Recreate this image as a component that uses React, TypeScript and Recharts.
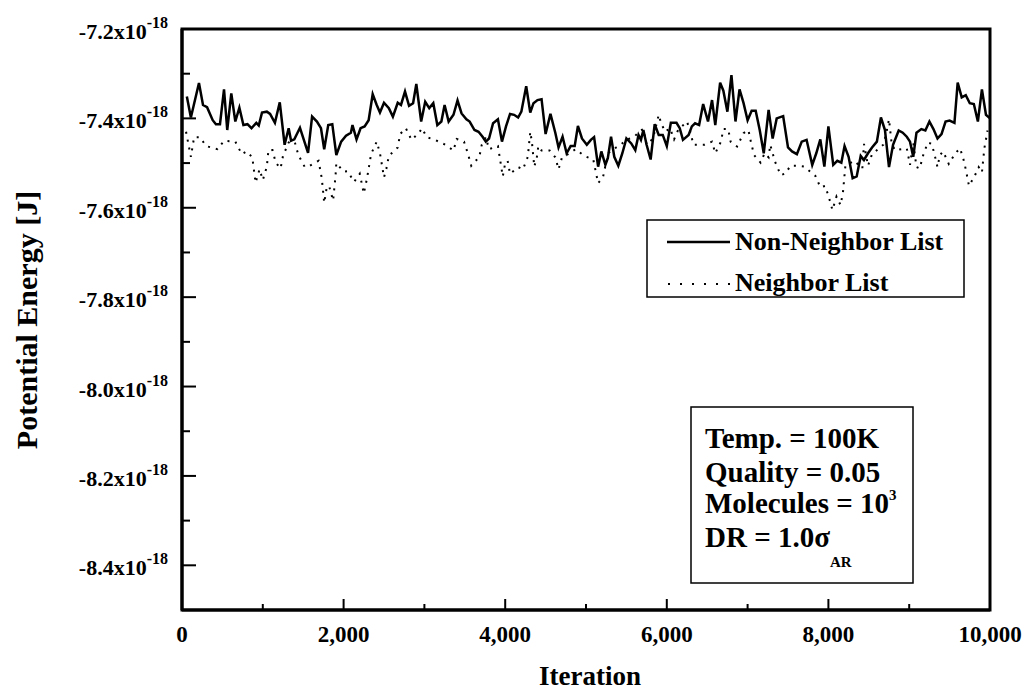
import React from "react";
import { LineChart, Line, XAxis, YAxis, ReferenceArea } from "recharts";

// energies in units of 1e-18 J
const nonNeighborIter = [
  60, 110, 210, 260, 310, 380, 420, 470, 520, 560, 610, 660, 710, 760, 810, 860, 920, 950, 990,
  1050, 1090, 1150, 1210, 1270, 1320, 1350, 1390, 1460, 1560, 1610, 1670, 1720, 1760, 1810, 1860, 1910, 1970,
  2030, 2090, 2110, 2160, 2210, 2260, 2310, 2360, 2410, 2450, 2500, 2560, 2610, 2670, 2710, 2760, 2810, 2860, 2900, 2960,
  3010, 3060, 3110, 3160, 3210, 3250, 3300, 3360, 3410, 3460, 3520, 3560, 3620, 3670, 3720, 3760, 3800, 3850, 3910, 3960,
  4010, 4060, 4110, 4160, 4200, 4260, 4310, 4350, 4400, 4450, 4500, 4560, 4620, 4660, 4710, 4760, 4810, 4860, 4900, 4950,
  5010, 5060, 5100, 5150, 5190, 5240, 5270, 5310, 5350, 5400, 5450, 5500, 5560, 5610, 5650, 5680, 5710, 5750, 5800, 5850, 5900, 5950,
  6000, 6050, 6120, 6160, 6200, 6270, 6310, 6350, 6400, 6450, 6510, 6560, 6600, 6660, 6700, 6750, 6800, 6850, 6900, 6950,
  7000, 7050, 7100, 7150, 7200, 7260, 7310, 7360, 7440, 7500, 7550, 7610, 7670, 7730, 7800, 7850, 7900, 7950,
  8000, 8060, 8110, 8160, 8200, 8250, 8300, 8350, 8400, 8440, 8490, 8540, 8600, 8650, 8700, 8750, 8800, 8870, 8920, 8970,
  9010, 9050, 9090, 9150, 9200, 9250, 9300, 9350, 9400, 9450, 9500, 9560, 9600, 9650, 9700, 9750, 9800, 9850, 9900, 9950, 10000,
];
const nonNeighborEnergy = [
  -7.351, -7.398, -7.321, -7.37, -7.375, -7.404, -7.413, -7.413, -7.335, -7.426, -7.344, -7.407, -7.376, -7.415, -7.413, -7.422, -7.41, -7.416, -7.387,
  -7.385, -7.39, -7.41, -7.364, -7.459, -7.422, -7.45, -7.447, -7.421, -7.477, -7.396, -7.407, -7.422, -7.469, -7.415, -7.413, -7.482, -7.452,
  -7.439, -7.432, -7.415, -7.447, -7.422, -7.418, -7.404, -7.346, -7.37, -7.387, -7.365, -7.377, -7.396, -7.365, -7.37, -7.34, -7.372, -7.366, -7.323, -7.407,
  -7.363, -7.377, -7.366, -7.415, -7.407, -7.37, -7.407, -7.392, -7.36, -7.389, -7.402, -7.407, -7.426, -7.43, -7.441, -7.452, -7.445, -7.411, -7.402, -7.452,
  -7.418, -7.39, -7.392, -7.398, -7.385, -7.328, -7.387, -7.366, -7.359, -7.357, -7.435, -7.39, -7.432, -7.465, -7.441, -7.478, -7.462, -7.462, -7.417, -7.445,
  -7.459, -7.448, -7.442, -7.508, -7.474, -7.504, -7.489, -7.441, -7.486, -7.506, -7.478, -7.445, -7.456, -7.471, -7.437, -7.448, -7.426, -7.459, -7.492, -7.413, -7.437, -7.437,
  -7.462, -7.41, -7.41, -7.422, -7.448, -7.437, -7.418, -7.411, -7.415, -7.368, -7.407, -7.359, -7.415, -7.32, -7.338, -7.385, -7.303, -7.407, -7.335, -7.366,
  -7.404, -7.383, -7.383, -7.426, -7.478, -7.381, -7.445, -7.4, -7.395, -7.465, -7.474, -7.48, -7.452, -7.448, -7.504, -7.478, -7.447, -7.508,
  -7.418, -7.504, -7.495, -7.499, -7.462, -7.486, -7.534, -7.53, -7.484, -7.493, -7.478, -7.465, -7.452, -7.398, -7.426, -7.509, -7.459, -7.427, -7.432, -7.441,
  -7.452, -7.486, -7.432, -7.424, -7.427, -7.407, -7.424, -7.445, -7.435, -7.407, -7.405, -7.41, -7.32, -7.353, -7.348, -7.366, -7.368, -7.407, -7.335, -7.392, -7.4,
];

const neighborIter = [
  50, 110, 150, 220, 300, 440, 520, 660, 740, 800, 870, 910, 960, 1000, 1050, 1070, 1120, 1160, 1220, 1250, 1320, 1350, 1400, 1440, 1520, 1580, 1690, 1730, 1760, 1790, 1820, 1870, 1900, 1910,
  2000, 2050, 2130, 2200, 2250, 2290, 2340, 2410, 2450, 2500, 2530, 2560, 2670, 2700, 2770, 2840, 2930, 2970,
  3030, 3130, 3260, 3360, 3400, 3490, 3540, 3580, 3680, 3710, 3760, 3800, 3910, 3970,
  4000, 4030, 4060, 4160, 4220, 4280, 4310, 4330, 4360, 4390, 4410, 4450, 4550, 4620, 4660, 4700, 4870, 4980,
  5090, 5150, 5210, 5240, 5280, 5340, 5540, 5610, 5670, 5710, 5750, 5830, 5900, 5930, 5980,
  6040, 6090, 6140, 6250, 6290, 6330, 6470, 6560, 6600, 6670, 6700, 6760, 6790, 6870, 6950,
  7010, 7040, 7080, 7160, 7210, 7260, 7280, 7340, 7410, 7470, 7530, 7620, 7700, 7840, 7900, 7960,
  8010, 8050, 8100, 8150, 8180, 8210, 8320, 8420, 8440, 8490, 8540, 8680, 8720, 8750, 8780, 8820, 8970,
  9010, 9050, 9090, 9130, 9170, 9230, 9280, 9320, 9350, 9380, 9420, 9490, 9570, 9630, 9680, 9710, 9740, 9810, 9860, 9900, 9930, 9970,
];
const neighborEnergy = [
  -7.43, -7.486, -7.442, -7.442, -7.462, -7.469, -7.45, -7.452, -7.48, -7.474, -7.487, -7.544, -7.514, -7.538, -7.508, -7.471, -7.471, -7.499, -7.512, -7.484, -7.454, -7.45, -7.456, -7.482, -7.509, -7.506, -7.495, -7.534, -7.589, -7.556, -7.551, -7.584, -7.529, -7.5,
  -7.519, -7.518, -7.542, -7.524, -7.568, -7.534, -7.48, -7.452, -7.478, -7.532, -7.512, -7.484, -7.465, -7.435, -7.422, -7.448, -7.433, -7.422,
  -7.442, -7.448, -7.459, -7.472, -7.446, -7.452, -7.48, -7.506, -7.486, -7.459, -7.442, -7.469, -7.462, -7.53,
  -7.5, -7.495, -7.524, -7.509, -7.514, -7.486, -7.43, -7.452, -7.508, -7.489, -7.462, -7.472, -7.472, -7.487, -7.514, -7.489, -7.469, -7.484,
  -7.492, -7.545, -7.532, -7.506, -7.477, -7.469, -7.445, -7.439, -7.427, -7.424, -7.459, -7.445, -7.392, -7.411, -7.43,
  -7.422, -7.447, -7.426, -7.407, -7.43, -7.459, -7.459, -7.452, -7.478, -7.452, -7.424, -7.424, -7.452, -7.463, -7.433,
  -7.426, -7.452, -7.482, -7.499, -7.478, -7.487, -7.459, -7.497, -7.527, -7.523, -7.506, -7.506, -7.508, -7.529, -7.554, -7.551,
  -7.579, -7.605, -7.575, -7.594, -7.566, -7.506, -7.495, -7.512, -7.457, -7.506, -7.48, -7.459, -7.43, -7.402, -7.452, -7.471, -7.467,
  -7.504, -7.454, -7.509, -7.512, -7.484, -7.454, -7.457, -7.486, -7.509, -7.482, -7.474, -7.502, -7.478, -7.467, -7.497, -7.523, -7.551, -7.529, -7.509, -7.521, -7.467, -7.427,
];

const xTicks = [0, 1000, 2000, 3000, 4000, 5000, 6000, 7000, 8000, 9000, 10000];
const yTicks = [-8.5, -8.4, -8.3, -8.2, -8.1, -8.0, -7.9, -7.8, -7.7, -7.6, -7.5, -7.4, -7.3, -7.2];

const FONT = '"Liberation Serif", "Times New Roman", serif';

const nonNeighborData = nonNeighborIter.map((it, i) => ({ it, e: nonNeighborEnergy[i] }));
const neighborData = neighborIter.map((it, i) => ({ it, e: neighborEnergy[i] }));

const XTick = (props: any) => {
  const { x, y, payload } = props;
  const major = payload.value % 2000 === 0;
  return (
    <g>
      <line x1={x} y1={y} x2={x} y2={y - (major ? 11 : 6)} stroke="#000" strokeWidth={2} />
      {major && (
        <text x={x} y={y + 32} textAnchor="middle" fontFamily={FONT} fontWeight="bold" fontSize={23} fill="#000">
          {payload.value.toLocaleString("en-US")}
        </text>
      )}
    </g>
  );
};

const YTick = (props: any) => {
  const { x, y, payload } = props;
  const major = Math.round(payload.value * 10) % 2 === 0;
  const atEdge = Math.abs(payload.value + 8.5) < 1e-6;
  return (
    <g>
      {!atEdge && (
        <line x1={x} y1={y} x2={x + (major ? 14 : 8)} y2={y} stroke="#000" strokeWidth={2} />
      )}
      {major && !atEdge && (
        <text x={x - 14} y={y + 10} textAnchor="end" fontFamily={FONT} fontWeight="bold" fontSize={22} fill="#000">
          <tspan>{payload.value.toFixed(1)}x10</tspan>
          <tspan dy={-11} fontSize={16}>-18</tspan>
        </text>
      )}
    </g>
  );
};

export default function App() {
  return (
    <div style={{ position: "relative", width: 1025, height: 691 }}>
      <style>{"body{margin:0}"}</style>
      <LineChart width={1025} height={691} margin={{ top: 29, right: 35, left: 0, bottom: 0 }}>
        <XAxis
          dataKey="it"
          type="number"
          domain={[0, 10000]}
          ticks={xTicks}
          interval={0}
          height={81}
          tickSize={0}
          tickMargin={0}
          tick={<XTick />}
          axisLine={{ stroke: "#000", strokeWidth: 3 }}
          allowDataOverflow
        />
        <YAxis
          type="number"
          domain={[-8.5, -7.2]}
          ticks={yTicks}
          interval={0}
          width={182}
          tickSize={0}
          tickMargin={0}
          tick={<YTick />}
          axisLine={{ stroke: "#000", strokeWidth: 3 }}
          allowDataOverflow
        />
        <ReferenceArea x1={0} x2={10000} y1={-8.5} y2={-7.2} fill="none" stroke="#000" strokeWidth={3} />
        <Line
          data={nonNeighborData}
          dataKey="e"
          type="linear"
          stroke="#000"
          strokeWidth={2.5}
          dot={false}
          isAnimationActive={false}
        />
        <Line
          data={neighborData}
          dataKey="e"
          type="linear"
          stroke="#000"
          strokeWidth={2}
          strokeDasharray="2 6"
          dot={false}
          isAnimationActive={false}
        />
      </LineChart>
      <svg
        width={1025}
        height={691}
        style={{ position: "absolute", left: 0, top: 0, pointerEvents: "none" }}
        fontFamily={FONT}
        fontWeight="bold"
      >
        <text x={37} y={320} transform="rotate(-90 37 320)" textAnchor="middle" fontSize={30} fill="#000">
          Potential Energy [J]
        </text>
        <text x={590} y={685} textAnchor="middle" fontSize={27} fill="#000">
          Iteration
        </text>

        <rect x={647} y={220} width={317} height={77} fill="#fff" stroke="#000" strokeWidth={1.5} />
        <line x1={667} y1={242} x2={730} y2={242} stroke="#000" strokeWidth={2.5} />
        <text x={735} y={250} fontSize={26} fill="#000">Non-Neighbor List</text>
        <line x1={668} y1={284} x2={730} y2={284} stroke="#000" strokeWidth={2} strokeDasharray="2 10" />
        <text x={735} y={291} fontSize={26} fill="#000">Neighbor List</text>

        <rect x={691} y={407} width={222} height={176} fill="#fff" stroke="#000" strokeWidth={1.5} />
        <text x={705} y={448} fontSize={29} fill="#000">Temp. = 100K</text>
        <text x={705} y={482} fontSize={29} fill="#000">Quality = 0.05</text>
        <text x={705} y={513} fontSize={29} fill="#000">
          Molecules = 10<tspan dy={-13} fontSize={15}>3</tspan>
        </text>
        <text x={705} y={547} fontSize={29} fill="#000">
          DR = 1.0σ<tspan dy={20} fontSize={15}>AR</tspan>
        </text>
      </svg>
    </div>
  );
}
